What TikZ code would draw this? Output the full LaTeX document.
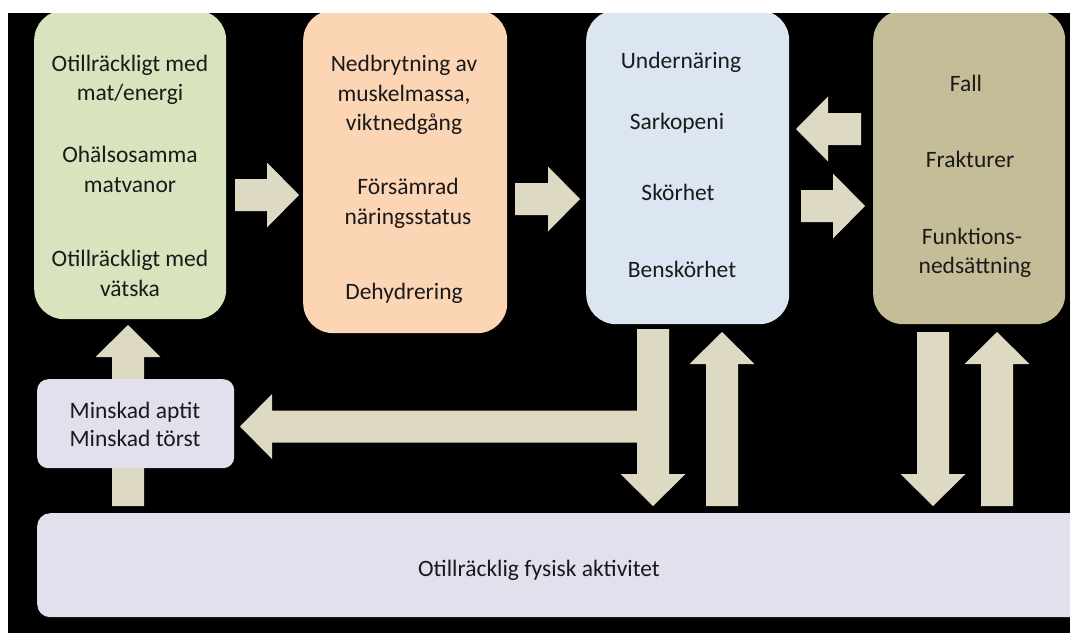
\documentclass[tikz,border=0pt]{standalone}
\usepackage{fontspec}
\setmainfont{Carlito}
\usetikzlibrary{calc}
\definecolor{cgreen}{HTML}{D7E4BD}
\definecolor{corange}{HTML}{FCD5B5}
\definecolor{cblue}{HTML}{DCE6F2}
\definecolor{ctan}{HTML}{C4BD97}
\definecolor{cpurple}{HTML}{E4DFEC}
\definecolor{carrow}{HTML}{DDD9C3}
\definecolor{ctext}{HTML}{1A1A1A}
\tikzset{
  box/.style={anchor=north west, inner sep=0pt, rounded corners=30pt, draw=none},
  smallbox/.style={box, rounded corners=11pt},
  txt/.style={anchor=base, inner sep=0pt, text=ctext, font=\fontsize{23.5}{28}\selectfont},
  barrow/.style={fill=carrow, draw=none},
}
% block arrow from #1 to #2 (shaft 32, head 65 wide, 32 long)
\newcommand\blockarrow[2]{%
  \coordinate (ba-h) at ($(#2)!32pt!(#1)$);
  \path[barrow] ($(#1)!16pt!90:(#2)$) -- ($(ba-h)!16pt!-90:(#1)$) -- ($(ba-h)!32.5pt!-90:(#1)$)
    -- (#2) -- ($(ba-h)!32.5pt!90:(#1)$) -- ($(ba-h)!16pt!90:(#1)$) -- ($(#1)!16pt!-90:(#2)$) -- cycle;
}
\begin{document}
\begin{tikzpicture}[x=1pt,y=-1pt]
\useasboundingbox (0,0) rectangle (1070,633);
\fill[white] (0,0) rectangle (1070,633);
\fill[black] (8,13) rectangle (1070,633);
\begin{scope}
\clip (8,13) rectangle (1070,633);
% boxes
\node[box, fill=cgreen, minimum width=192pt, minimum height=309pt] (green) at (34,10) {};
\node[box, fill=corange, minimum width=204pt, minimum height=323pt] (orange) at (303,10) {};
\node[box, fill=cblue, minimum width=203pt, minimum height=314pt] (blue) at (586,10) {};
\node[box, fill=ctan, minimum width=192pt, minimum height=314pt] (tan) at (873,10) {};
\node[smallbox, rounded corners=13pt, fill=cpurple, minimum width=1100pt, minimum height=104pt] (bottom) at (37,513) {};

% arrow end points
\coordinate (go-s) at (235,195);   \coordinate (go-e) at (299,195);
\coordinate (ob-s) at (515,199);   \coordinate (ob-e) at (580,199);
\coordinate (tb-s) at (861,129);   \coordinate (tb-e) at (796,129);
\coordinate (bt-s) at (801,206);   \coordinate (bt-e) at (865,206);
\coordinate (bd-s) at (653,329);   \coordinate (bd-e) at (653,506);
\coordinate (bu-s) at (722,506);   \coordinate (bu-e) at (722,332);
\coordinate (td-s) at (933,332);   \coordinate (td-e) at (933,506);
\coordinate (tu-s) at (997,506);   \coordinate (tu-e) at (997,332);
\coordinate (lu-s) at (128,506);   \coordinate (lu-e) at (128,325);
\coordinate (ml-s) at (653,426.5); \coordinate (ml-e) at (240,426.5);

\blockarrow{go-s}{go-e}
\blockarrow{ob-s}{ob-e}
\blockarrow{tb-s}{tb-e}
\blockarrow{bt-s}{bt-e}
\blockarrow{ml-s}{ml-e}
\blockarrow{bd-s}{bd-e}
\blockarrow{bu-s}{bu-e}
\blockarrow{td-s}{td-e}
\blockarrow{tu-s}{tu-e}
\blockarrow{lu-s}{lu-e}

\node[smallbox, fill=cpurple, minimum width=197pt, minimum height=89pt] (minskad) at (37,379) {};

% texts
\node[txt] (g1) at (130,71) {Otillräckligt med};
\node[txt] (g2) at (130,100) {mat/energi};
\node[txt] (g3) at (130,162) {Ohälsosamma};
\node[txt] (g4) at (130,192) {matvanor};
\node[txt] (g5) at (130,266) {Otillräckligt med};
\node[txt] (g6) at (130,296) {vätska};

\node[txt] (o1) at (404,71) {Nedbrytning av};
\node[txt] (o2) at (404,101) {muskelmassa,};
\node[txt] (o3) at (404,130) {viktnedgång};
\node[txt] (o4) at (408,194) {Försämrad};
\node[txt] (o5) at (408,224) {näringsstatus};
\node[txt] (o6) at (404,299) {Dehydrering};

\node[txt] (b1) at (681,68) {Undernäring};
\node[txt] (b2) at (677,129) {Sarkopeni};
\node[txt] (b3) at (678,200) {Skörhet};
\node[txt] (b4) at (682,277) {Benskörhet};

\node[txt] (t1) at (966,91) {Fall};
\node[txt] (t2) at (970,167) {Frakturer};
\node[txt] (t3) at (972,244) {Funktions-};
\node[txt] (t4) at (975,273) {nedsättning};

\node[txt] (m1) at (135,418) {Minskad aptit};
\node[txt] (m2) at (135,446) {Minskad törst};

\node[txt] (f1) at (539,576) {Otillräcklig fysisk aktivitet};
\end{scope}
\end{tikzpicture}
\end{document}
